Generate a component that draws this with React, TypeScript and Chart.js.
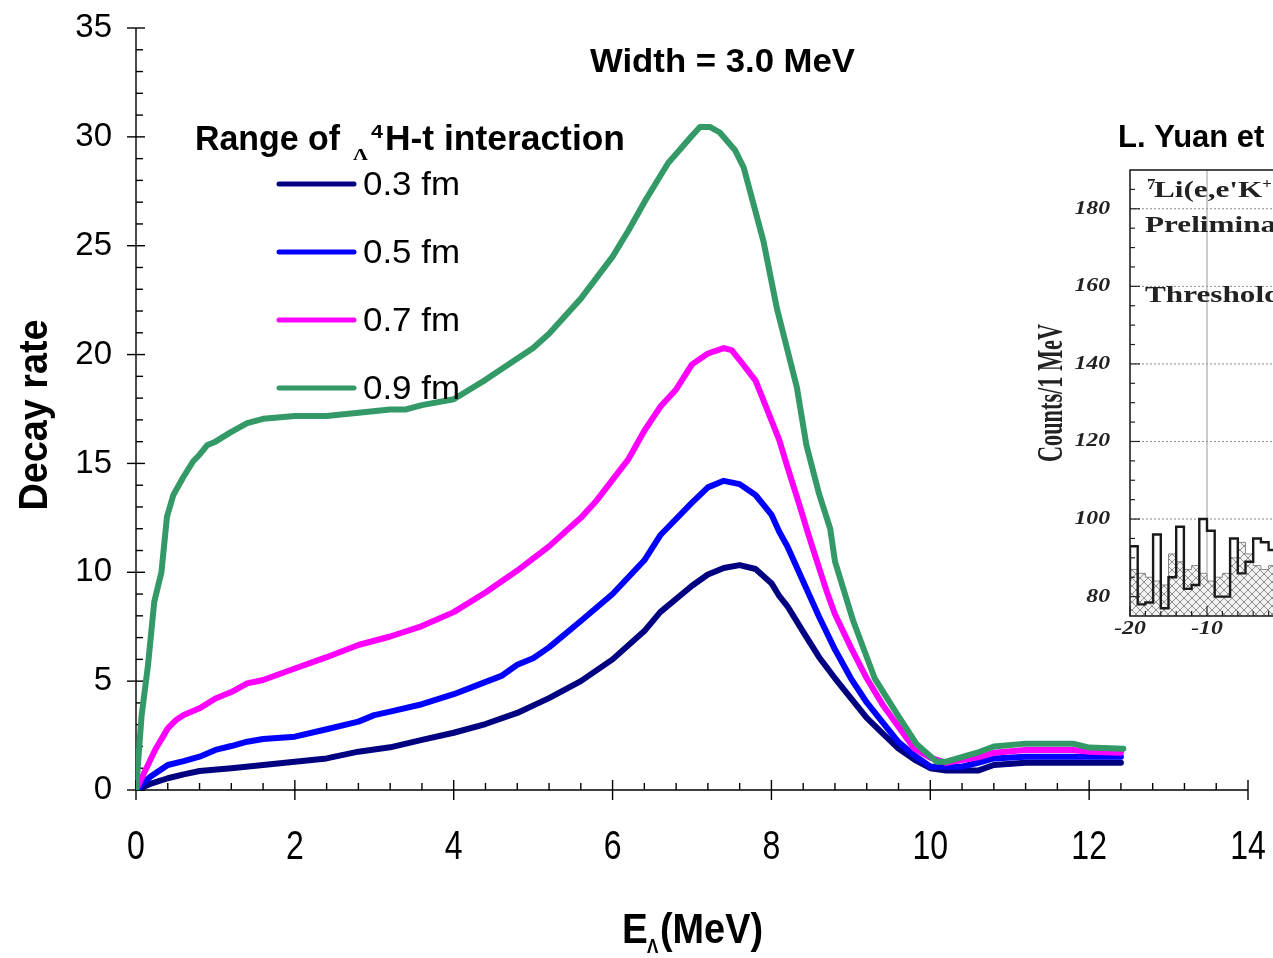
import React, { useEffect, useRef } from "react";
import { Chart, registerables } from "chart.js";
Chart.register(...registerables);

// ---------- main chart data ----------
const X_TICKS = [0, 2, 4, 6, 8, 10, 12, 14];
const Y_TICKS = [0, 5, 10, 15, 20, 25, 30, 35];
const SERIES_LABELS = ["0.3 fm", "0.5 fm", "0.7 fm", "0.9 fm"];
const SERIES_COLORS = ["#000080", "#0000ff", "#ff00ff", "#339966"];

const E_03 = [0, 0.18, 0.4, 0.6, 0.8, 1.2, 1.6, 2.0, 2.4, 2.8, 3.2, 3.6, 4.0, 4.4, 4.8, 5.2, 5.6, 6.0, 6.4, 6.6, 7.0, 7.2, 7.4, 7.6, 7.8, 8.0, 8.1, 8.2, 8.4, 8.6, 8.8, 9.0, 9.2, 9.4, 9.6, 9.8, 10.0, 10.2, 10.6, 10.8, 11.2, 11.8, 12.4];
const R_03 = [0, 0.28, 0.54, 0.72, 0.87, 1.0, 1.15, 1.3, 1.45, 1.76, 1.96, 2.3, 2.63, 3.03, 3.54, 4.22, 5.0, 6.0, 7.3, 8.17, 9.38, 9.9, 10.2, 10.33, 10.15, 9.5, 8.9, 8.45, 7.26, 6.1, 5.13, 4.22, 3.31, 2.6, 1.9, 1.4, 1.0, 0.89, 0.89, 1.15, 1.25, 1.25, 1.25];

const E_05 = [0, 0.18, 0.4, 0.6, 0.8, 1.0, 1.2, 1.4, 1.6, 2.0, 2.4, 2.8, 3.0, 3.2, 3.6, 4.0, 4.2, 4.6, 4.8, 5.0, 5.2, 5.6, 6.0, 6.4, 6.6, 7.0, 7.2, 7.4, 7.6, 7.8, 8.0, 8.1, 8.2, 8.4, 8.6, 8.8, 9.0, 9.2, 9.4, 9.6, 9.8, 10.0, 10.4, 10.6, 10.8, 11.2, 11.8, 12.4];
const R_05 = [0, 0.61, 1.15, 1.33, 1.53, 1.84, 2.02, 2.22, 2.34, 2.45, 2.79, 3.14, 3.44, 3.6, 3.94, 4.4, 4.68, 5.24, 5.75, 6.05, 6.55, 7.76, 9.0, 10.55, 11.7, 13.2, 13.9, 14.2, 14.05, 13.55, 12.65, 11.85, 11.2, 9.58, 7.96, 6.45, 5.13, 4.02, 3.11, 2.2, 1.59, 1.08, 1.07, 1.25, 1.45, 1.53, 1.53, 1.53];

const E_07 = [0, 0.1, 0.24, 0.4, 0.5, 0.6, 0.8, 1.0, 1.2, 1.4, 1.6, 2.0, 2.4, 2.8, 3.2, 3.6, 4.0, 4.4, 4.8, 5.2, 5.6, 5.8, 6.2, 6.4, 6.6, 6.8, 7.0, 7.2, 7.4, 7.5, 7.6, 7.8, 7.9, 8.1, 8.2, 8.36, 8.46, 8.6, 8.7, 8.8, 9.0, 9.2, 9.4, 9.6, 9.8, 10.0, 10.2, 10.6, 10.8, 11.2, 11.8, 12.0, 12.4];
const R_07 = [0, 0.77, 1.84, 2.83, 3.2, 3.44, 3.75, 4.2, 4.5, 4.9, 5.05, 5.58, 6.1, 6.66, 7.05, 7.53, 8.17, 9.07, 10.08, 11.19, 12.5, 13.3, 15.2, 16.5, 17.6, 18.4, 19.55, 20.05, 20.3, 20.2, 19.75, 18.8, 17.9, 16.06, 14.85, 13.0, 11.8, 10.2, 9.08, 8.07, 6.55, 5.13, 3.92, 2.9, 1.9, 1.49, 1.25, 1.5, 1.71, 1.84, 1.84, 1.76, 1.71];

const E_09 = [0, 0.07, 0.15, 0.23, 0.32, 0.39, 0.47, 0.6, 0.72, 0.8, 0.9, 1.0, 1.2, 1.4, 1.6, 2.0, 2.4, 2.8, 3.2, 3.4, 3.6, 4.0, 4.4, 5.0, 5.2, 5.6, 6.0, 6.2, 6.4, 6.6, 6.7, 7.0, 7.1, 7.23, 7.35, 7.54, 7.65, 7.9, 8.07, 8.32, 8.44, 8.6, 8.74, 8.8, 9.03, 9.3, 9.58, 9.83, 10.08, 10.2, 10.58, 10.8, 11.2, 11.8, 12.0, 12.43];
const R_09 = [0, 3.4, 5.7, 8.65, 10.0, 12.55, 13.55, 14.4, 15.1, 15.4, 15.85, 16.0, 16.45, 16.85, 17.05, 17.18, 17.18, 17.33, 17.48, 17.48, 17.68, 17.95, 18.84, 20.3, 20.96, 22.57, 24.5, 25.7, 27.0, 28.2, 28.8, 30.05, 30.45, 30.45, 30.2, 29.4, 28.6, 25.2, 22.1, 18.5, 15.85, 13.6, 12.0, 10.5, 7.76, 5.13, 3.5, 2.1, 1.3, 1.3, 1.7, 2.0, 2.13, 2.13, 1.95, 1.9];

const SERIES_E = [E_03, E_05, E_07, E_09];
const SERIES_R = [R_03, R_05, R_07, R_09];

// ---------- inset (scanned figure) data ----------
const INSET_EDGES = [-20, -19, -18, -17, -16, -15, -14, -13, -12, -11, -10, -9, -8, -7, -6, -5, -4, -3, -2, -1, 0];
const INSET_SIGNAL = [84, 93, 78, 78.5, 96, 77, 85, 98, 82, 83, 100, 97, 80, 80, 95, 86, 89, 95, 94, 92];
const INSET_BACKGROUND = [83, 87, 86, 85, 84, 83, 91, 89, 87, 88, 86, 84, 85, 86, 90, 94, 91, 88, 87, 88];
const INSET_Y_TICKS = [80, 100, 120, 140, 160, 180];
const INSET_X_TICKS = [-20, -10, 0, 10];

const SANS = "'Liberation Sans', Arial, sans-serif";
const SERIF = "'Liberation Serif', 'Times New Roman', serif";

function drawText(
  ctx: CanvasRenderingContext2D,
  text: string,
  x: number,
  y: number,
  font: string,
  opts: { align?: string; sx?: number; width?: number; baseline?: CanvasTextBaseline; color?: string } = {}
) {
  ctx.save();
  ctx.font = font;
  ctx.fillStyle = opts.color || "#000";
  ctx.textBaseline = opts.baseline || "alphabetic";
  ctx.textAlign = "left";
  const w = ctx.measureText(text).width;
  const sx = opts.width ? opts.width / w : opts.sx ?? 1;
  const drawn = w * sx;
  let x0 = x;
  if (opts.align === "center") x0 = x - drawn / 2;
  else if (opts.align === "right") x0 = x - drawn;
  ctx.translate(x0, y);
  ctx.scale(sx, 1);
  ctx.fillText(text, 0, 0);
  ctx.restore();
  return drawn;
}

const mainPlugin = {
  id: "mainDecor",
  beforeDatasetsDraw(chart: any) {
    const ctx: CanvasRenderingContext2D = chart.ctx;
    const xs = chart.scales.x;
    const ys = chart.scales.y;
    const x0 = xs.getPixelForValue(0);
    const y0 = ys.getPixelForValue(0);
    ctx.save();
    ctx.strokeStyle = "#000";
    ctx.lineWidth = 1.4;
    ctx.beginPath();
    ctx.moveTo(x0, ys.getPixelForValue(35));
    ctx.lineTo(x0, y0);
    ctx.lineTo(xs.getPixelForValue(14), y0);
    ctx.stroke();
    for (let v = 0; v <= 35; v += 1) {
      const p = ys.getPixelForValue(v);
      ctx.beginPath();
      if (v % 5 === 0) {
        ctx.moveTo(x0 - 9, p);
        ctx.lineTo(x0 + 9, p);
      } else {
        ctx.moveTo(x0, p);
        ctx.lineTo(x0 + 7, p);
      }
      ctx.stroke();
    }
    for (let i = 0; i <= 35; i++) {
      const v = i * 0.4;
      const p = xs.getPixelForValue(v);
      ctx.beginPath();
      if (i % 5 === 0) {
        ctx.moveTo(p, y0 - 10);
        ctx.lineTo(p, y0 + 10);
      } else {
        ctx.moveTo(p, y0 - 7);
        ctx.lineTo(p, y0);
      }
      ctx.stroke();
    }
    ctx.restore();
  },
  afterDraw(chart: any) {
    const ctx: CanvasRenderingContext2D = chart.ctx;
    const xs = chart.scales.x;
    const ys = chart.scales.y;
    Y_TICKS.forEach((v) => {
      drawText(ctx, String(v), 112, ys.getPixelForValue(v), `33px ${SANS}`, { align: "right", baseline: "middle" });
    });
    X_TICKS.forEach((v) => {
      drawText(ctx, String(v), xs.getPixelForValue(v), 848, `40px ${SANS}`, { align: "center", baseline: "middle", sx: 0.8 });
    });
    ctx.save();
    ctx.translate(47, 415);
    ctx.rotate(-Math.PI / 2);
    drawText(ctx, "Decay rate", 0, 0, `bold 40px ${SANS}`, { align: "center", width: 191 });
    ctx.restore();
    drawText(ctx, "E", 622, 943, `bold 42px ${SANS}`, { sx: 0.92 });
    drawText(ctx, "Λ", 647, 953, `bold 20px ${SANS}`, { sx: 0.85 });
    drawText(ctx, "(MeV)", 660, 943, `bold 42px ${SANS}`, { width: 103 });
    drawText(ctx, "Width = 3.0 MeV", 590, 72, `bold 34px ${SANS}`, { width: 265 });
    drawText(ctx, "Range of", 195, 150, `bold 35px ${SANS}`, { width: 145 });
    drawText(ctx, "Λ", 353, 160, `bold 17px ${SERIF}`, { width: 15 });
    drawText(ctx, "4", 371, 138, `bold 19px ${SANS}`, { width: 12 });
    drawText(ctx, "H-t interaction", 385, 150, `bold 35px ${SANS}`, { width: 240 });
    const rows = [184, 252, 320, 388];
    chart.data.datasets.forEach((ds: any, i: number) => {
      const y = rows[i];
      ctx.save();
      ctx.strokeStyle = ds.borderColor;
      ctx.lineWidth = 5;
      ctx.lineCap = "round";
      ctx.beginPath();
      ctx.moveTo(279, y);
      ctx.lineTo(354, y);
      ctx.stroke();
      ctx.restore();
      drawText(ctx, ds.label, 363, y + 11, `33px ${SANS}`, { width: 97 });
    });
    drawText(ctx, "L. Yuan et al.", 1118, 147, `bold 31px ${SANS}`, { sx: 1.0 });
  },
};

const insetPlugin = {
  id: "insetDecor",
  beforeDatasetsDraw(chart: any) {
    const ctx: CanvasRenderingContext2D = chart.ctx;
    const xs = chart.scales.x;
    const ys = chart.scales.y;
    const a = chart.chartArea;
    ctx.save();
    ctx.strokeStyle = "#8a8a8a";
    ctx.lineWidth = 1;
    ctx.setLineDash([2, 2]);
    INSET_Y_TICKS.forEach((v) => {
      if (v === 80) return;
      const p = ys.getPixelForValue(v);
      ctx.beginPath();
      ctx.moveTo(a.left, p);
      ctx.lineTo(a.right, p);
      ctx.stroke();
    });
    ctx.setLineDash([]);
    ctx.strokeStyle = "#999";
    [-10, 0, 10].forEach((v) => {
      const p = xs.getPixelForValue(v);
      ctx.beginPath();
      ctx.moveTo(p, a.top);
      ctx.lineTo(p, a.bottom);
      ctx.stroke();
    });
    ctx.restore();
  },
  afterDatasetsDraw(chart: any) {
    const ctx: CanvasRenderingContext2D = chart.ctx;
    const xs = chart.scales.x;
    const ys = chart.scales.y;
    const a = chart.chartArea;
    ctx.save();
    ctx.strokeStyle = "#222";
    ctx.lineWidth = 1.6;
    ctx.strokeRect(a.left, a.top, a.right - a.left, a.bottom - a.top);
    ctx.lineWidth = 1.2;
    for (let v = 80; v <= 185; v += 5) {
      const p = ys.getPixelForValue(v);
      const len = v % 20 === 0 ? 10 : 5;
      ctx.beginPath();
      ctx.moveTo(a.left, p);
      ctx.lineTo(a.left + len, p);
      ctx.stroke();
    }
    for (let v = -20; v <= 20; v += 2) {
      const p = xs.getPixelForValue(v);
      const len = v % 10 === 0 ? 10 : 5;
      ctx.beginPath();
      ctx.moveTo(p, a.bottom);
      ctx.lineTo(p, a.bottom - len);
      ctx.stroke();
    }
    ctx.restore();
    INSET_Y_TICKS.forEach((v) => {
      drawText(ctx, String(v), a.left - 20, ys.getPixelForValue(v), `italic bold 19px ${SERIF}`, { align: "right", baseline: "middle", sx: 1.25, color: "#222" });
    });
    INSET_X_TICKS.forEach((v) => {
      drawText(ctx, String(v), xs.getPixelForValue(v), a.bottom + 13, `italic bold 19px ${SERIF}`, { align: "center", baseline: "middle", sx: 1.25, color: "#222" });
    });
    ctx.save();
    ctx.translate(62, 243);
    ctx.rotate(-Math.PI / 2);
    drawText(ctx, "Counts/1 MeV", 0, 0, `bold 36px ${SERIF}`, { align: "center", width: 138, color: "#222" });
    ctx.restore();
    const tx = a.left + 15;
    drawText(ctx, "7", tx + 2, 39, `bold 14px ${SERIF}`, { sx: 1.2, color: "#222" });
    const w = drawText(ctx, "Li(e,e'K", tx + 9, 47, `bold 24px ${SERIF}`, { sx: 1.3, color: "#222" });
    drawText(ctx, "+", tx + 9 + w, 38, `bold 14px ${SERIF}`, { sx: 1.2, color: "#222" });
    drawText(ctx, ")", tx + 19 + w, 47, `bold 24px ${SERIF}`, { sx: 1.3, color: "#222" });
    drawText(ctx, "Preliminary", tx, 82, `bold 24px ${SERIF}`, { sx: 1.3, color: "#222" });
    drawText(ctx, "Threshold", tx, 152, `bold 24px ${SERIF}`, { sx: 1.3, color: "#222" });
  },
};

function makePattern(): CanvasPattern | string {
  const c = document.createElement("canvas");
  c.width = 8;
  c.height = 8;
  const g = c.getContext("2d");
  if (!g) return "#ddd";
  g.fillStyle = "#f2f2f2";
  g.fillRect(0, 0, 8, 8);
  g.strokeStyle = "#8f8f8f";
  g.lineWidth = 1;
  g.beginPath();
  g.moveTo(0, 0);
  g.lineTo(8, 8);
  g.moveTo(8, 0);
  g.lineTo(0, 8);
  g.stroke();
  const p = g.createPattern(c, "repeat");
  return p || "#ddd";
}

export default function App() {
  const mainRef = useRef<HTMLCanvasElement>(null);
  const insetRef = useRef<HTMLCanvasElement>(null);

  useEffect(() => {
    if (!mainRef.current || !insetRef.current) return;
    const datasets = SERIES_LABELS.map((label, i) => ({
      label,
      data: SERIES_E[i].map((e, j) => ({ x: e, y: SERIES_R[i][j] })),
      borderColor: SERIES_COLORS[i],
      backgroundColor: SERIES_COLORS[i],
      borderWidth: 6,
      pointRadius: 0,
      tension: 0,
      fill: false,
      order: 3 - i,
      borderJoinStyle: "round" as const,
      borderCapStyle: "round" as const,
    }));
    const main = new Chart(mainRef.current, {
      type: "line",
      data: { datasets },
      options: {
        animation: false,
        responsive: false,
        maintainAspectRatio: false,
        layout: { padding: { left: 136, right: 25, top: 28, bottom: 168 } },
        plugins: { legend: { display: false }, tooltip: { enabled: false }, title: { display: false } },
        scales: {
          x: { type: "linear", min: 0, max: 14, display: false },
          y: { type: "linear", min: 0, max: 35, display: false },
        },
      },
      plugins: [mainPlugin],
    } as any);

    const pattern = makePattern();
    const binPoints = (vals: number[]) =>
      INSET_EDGES.map((e, i) => ({ x: e, y: vals[Math.min(i, vals.length - 1)] }));
    const inset = new Chart(insetRef.current, {
      type: "line",
      data: {
        datasets: [
          {
            label: "background",
            data: binPoints(INSET_BACKGROUND),
            stepped: "after",
            fill: "start",
            backgroundColor: pattern,
            borderColor: "#8a8a8a",
            borderWidth: 1,
            pointRadius: 0,
            order: 2,
          },
          {
            label: "data",
            data: binPoints(INSET_SIGNAL),
            stepped: "after",
            fill: false,
            borderColor: "#1a1a1a",
            borderWidth: 2.4,
            pointRadius: 0,
            order: 1,
          },
        ],
      },
      options: {
        animation: false,
        responsive: false,
        maintainAspectRatio: false,
        layout: { padding: { left: 130, right: 62, top: 20, bottom: 54 } },
        plugins: { legend: { display: false }, tooltip: { enabled: false } },
        scales: {
          x: { type: "linear", min: -20, max: 20, display: false },
          y: { type: "linear", min: 75, max: 190, display: false },
        },
      },
      plugins: [insetPlugin],
    } as any);

    return () => {
      main.destroy();
      inset.destroy();
    };
  }, []);

  return (
    <div
      style={{
        position: "fixed",
        left: 0,
        top: 0,
        width: 1273,
        height: 958,
        overflow: "hidden",
        background: "#fff",
      }}
    >
      <canvas ref={mainRef} width={1273} height={958} style={{ position: "absolute", left: 0, top: 0, width: 1273, height: 958 }} />
      <canvas ref={insetRef} width={500} height={520} style={{ position: "absolute", left: 1000, top: 150, width: 500, height: 520 }} />
    </div>
  );
}
